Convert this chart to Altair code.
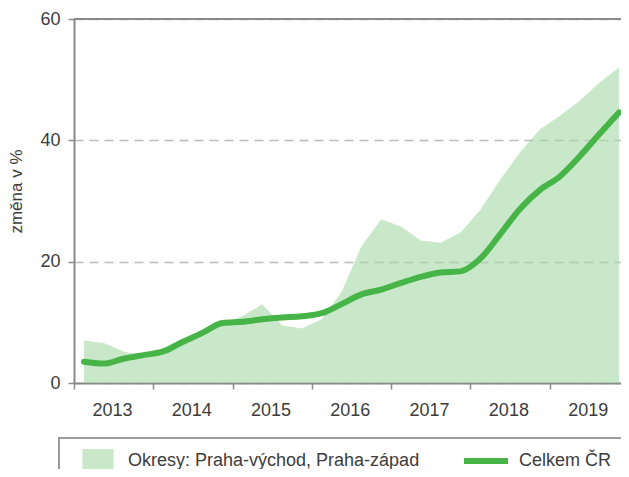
import altair as alt
import pandas as pd

years = [2013, 2014, 2015, 2016, 2017, 2018, 2019]
quarters = [1, 2, 3, 4]
celkem_cr = [3.5, 3.2, 4.0, 4.6, 5.2, 6.8, 8.3, 9.9, 10.1, 10.5, 10.8, 11.0, 11.5, 13.0,
             14.6, 15.4, 16.5, 17.5, 18.2, 18.4, 20.5, 24.5, 28.7, 31.8, 34.0, 37.3, 41.0, 44.6]
okresy = [7.0, 6.6, 5.2, 4.5, 5.0, 6.5, 8.3, 9.8, 11.0, 13.0, 9.5, 9.0, 10.5, 15.0,
          22.5, 27.0, 25.8, 23.5, 23.1, 24.8, 28.5, 33.5, 38.0, 41.8, 44.0, 46.5, 49.5, 52.0]
y_ticks = [0, 20, 40, 60]
name_okresy = "Okresy: Praha-východ, Praha-západ"
name_cr = "Celkem ČR"

FONT = "Liberation Sans"
TEXT = "#3c3c3c"
AXIS = "#8a8a8a"
AREA = "#a5d9a5"
LINE = "#46b446"

t = [y + (q - 0.5) / 4 for y in years for q in quarters]
df_area = pd.DataFrame({"t": t, "v": okresy, "s": name_okresy})
df_line = pd.DataFrame({"t": t, "v": celkem_cr, "s": name_cr})

xscale = alt.Scale(domain=[2013, 2019.9], nice=False, zero=False)
yscale = alt.Scale(domain=[0, 60], nice=False)

xaxis = alt.Axis(values=years, format="d", labelOffset=38, labelFlush=False,
                 title=None, grid=False, tickSize=6, tickWidth=1.5, tickColor=AXIS,
                 domainColor=AXIS, domainWidth=2, labelFont=FONT, labelFontSize=18,
                 labelColor=TEXT, labelPadding=12)
yaxis = alt.Axis(values=y_ticks, title="změna v %", grid=True, gridDash=[9, 6],
                 gridColor="#bdbdbd", gridWidth=1.5, tickSize=6, tickWidth=1.5,
                 tickColor=AXIS, domainColor=AXIS, domainWidth=2, labelFont=FONT,
                 labelFontSize=18, labelColor=TEXT, labelPadding=8,
                 titleFont=FONT, titleFontSize=17, titleFontWeight="normal",
                 titleColor=TEXT, titleX=-58, titleY=172, titleAngle=270,
                 titleAlign="center", titleBaseline="middle")

area = alt.Chart(df_area).mark_area(opacity=0.6, interpolate="linear").encode(
    x=alt.X("t:Q", scale=xscale, axis=xaxis),
    y=alt.Y("v:Q", scale=yscale, axis=yaxis),
    fill=alt.Fill("s:N", scale=alt.Scale(domain=[name_okresy], range=[AREA]),
                  legend=alt.Legend(orient="none", legendX=12, legendY=430,
                                    direction="horizontal", title=None,
                                    symbolType="M-1.3,-1H1.3V1H-1.3Z", symbolSize=576,
                                    symbolStrokeWidth=0, symbolOpacity=0.6,
                                    labelFont=FONT, labelFontSize=18, labelColor=TEXT,
                                    labelOffset=18, labelLimit=500, padding=0)),
)

line = alt.Chart(df_line).mark_line(strokeWidth=6, interpolate="monotone",
                                    strokeCap="round", strokeJoin="round").encode(
    x=alt.X("t:Q", scale=xscale),
    y=alt.Y("v:Q", scale=yscale),
    stroke=alt.Stroke("s:N", scale=alt.Scale(domain=[name_cr], range=[LINE]),
                      legend=alt.Legend(orient="none", legendX=387, legendY=417,
                                        direction="horizontal", title=None,
                                        symbolType="stroke", symbolSize=1936,
                                        symbolStrokeWidth=6,
                                        labelFont=FONT, labelFontSize=18,
                                        labelColor=TEXT, labelOffset=8,
                                        labelLimit=500, padding=0)),
)

top = alt.Chart(pd.DataFrame({"v": [y_ticks[-1]]})).mark_rule(
    color=AXIS, strokeWidth=2).encode(y=alt.Y("v:Q", scale=yscale))

box = alt.Chart(pd.DataFrame({"a": [0]})).mark_rect(
    fillOpacity=0, stroke="#9a9a9a", strokeWidth=2).encode(
    x=alt.value(-15), x2=alt.value(620), y=alt.value(419), y2=alt.value(540))

chart = alt.layer(area, line, top, box).resolve_scale(
    fill="independent", stroke="independent"
).properties(
    width=547, height=364,
    autosize=alt.AutoSizeParams(type="none"),
    padding={"left": 66, "top": 11, "right": 0, "bottom": 86},
).configure_view(stroke=None)

chart.save("out.html", embed_options={"renderer": "svg", "actions": False})
